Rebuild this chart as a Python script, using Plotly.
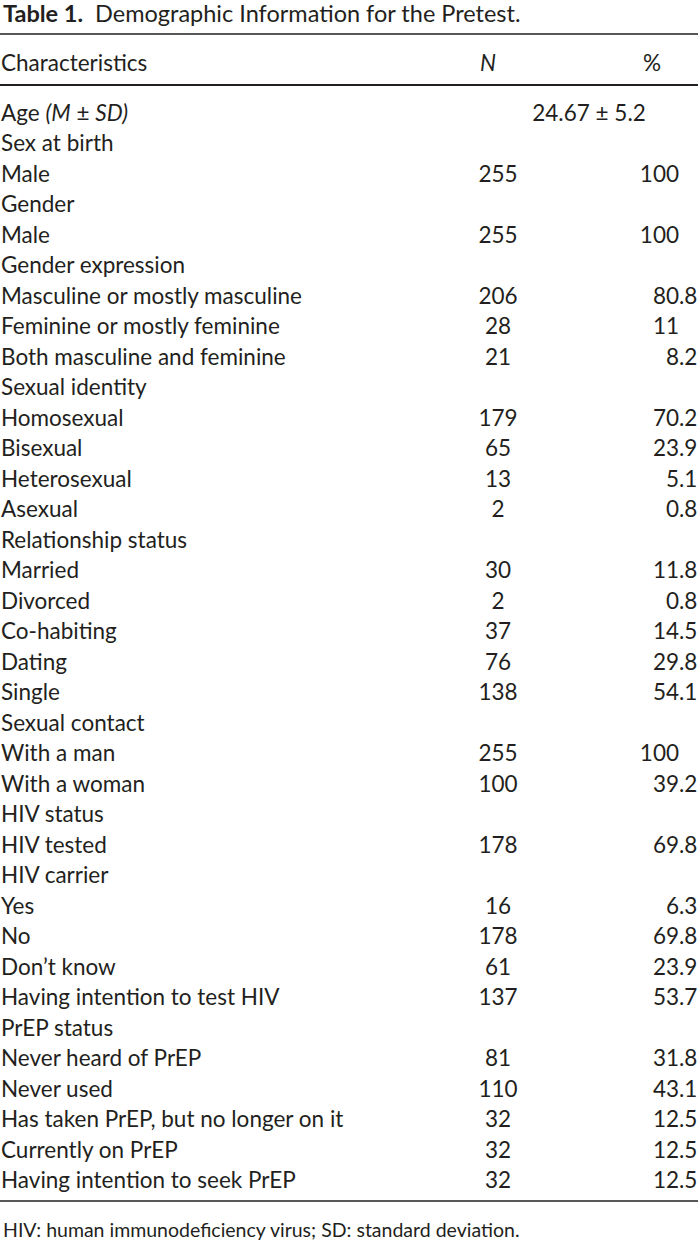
import plotly.graph_objects as go

# ---------------- data ----------------
labels = [
    "Age <i>(M</i> ± <i>SD)</i>", "Sex at birth", "Male", "Gender", "Male",
    "Gender expression", "Masculine or mostly masculine", "Feminine or mostly feminine",
    "Both masculine and feminine", "Sexual identity", "Homosexual", "Bisexual",
    "Heterosexual", "Asexual", "Relationship status", "Married", "Divorced",
    "Co-habiting", "Dating", "Single", "Sexual contact", "With a man", "With a woman",
    "HIV status", "HIV tested", "HIV carrier", "Yes", "No", "Don’t know",
    "Having intention to test HIV", "PrEP status", "Never heard of PrEP", "Never used",
    "Has taken PrEP, but no longer on it", "Currently on PrEP",
    "Having intention to seek PrEP",
]
n_values = [
    "", "", "255", "", "255", "", "206", "28", "21", "", "179", "65", "13", "2", "",
    "30", "2", "37", "76", "138", "", "255", "100", "", "178", "", "16", "178", "61",
    "137", "", "81", "110", "32", "32", "32",
]
pct_values = [
    "", "", "100", "", "100", "", "80.8", "11", "8.2", "", "70.2", "23.9", "5.1", "0.8",
    "", "11.8", "0.8", "14.5", "29.8", "54.1", "", "100", "39.2", "", "69.8", "",
    "6.3", "69.8", "23.9", "53.7", "", "31.8", "43.1", "12.5", "12.5", "12.5",
]
age_summary = "24.67 ± 5.2"
headers = ["Characteristics", "<i>N</i>", "%"]
title_bold = "Table 1."
title_rest = "Demographic Information for the Pretest."
footnote = "HIV: human immunodeficiency virus; SD: standard deviation."

# ---------------- layout constants ----------------
W, H = 698, 1242
ROW0, ROWH = 115, 30.5          # pixel centre of first row, row pitch
FONT = "Lato"
INK = "#231f20"
FS = 22.5


def px_to_row(p):
    return (p - ROW0) / ROWH


X_LABEL, X_N, X_DEC, X_AGE = 1, 498, 679, 589
X_HDR = [X_LABEL, 488, 652]

rows = list(range(len(labels)))
int_parts = [v.split(".")[0] for v in pct_values]
frac_parts = ["." + v.split(".")[1] if "." in v else "" for v in pct_values]

font = dict(family=FONT, size=FS, color=INK)
common = dict(mode="text", textfont=font, hoverinfo="skip", cliponaxis=False)

fig = go.Figure()
fig.add_trace(go.Scatter(x=[X_LABEL] * len(rows), y=rows, text=labels,
                         textposition="middle right", **common))
fig.add_trace(go.Scatter(x=[X_N] * len(rows), y=rows, text=n_values,
                         textposition="middle center", **common))
fig.add_trace(go.Scatter(x=[X_DEC] * len(rows), y=rows, text=int_parts,
                         textposition="middle left", **common))
fig.add_trace(go.Scatter(x=[X_DEC] * len(rows), y=rows, text=frac_parts,
                         textposition="middle right", **common))
fig.add_trace(go.Scatter(x=[X_AGE], y=[0], text=[age_summary],
                         textposition="middle center", **common))
fig.add_trace(go.Scatter(x=X_HDR, y=[px_to_row(65)] * 3, text=headers,
                         textposition=["middle right", "middle center", "middle center"],
                         **common))

fig.add_annotation(x=X_LABEL, y=px_to_row(13), xref="x", yref="y", xanchor="left",
                   yanchor="middle", showarrow=False,
                   text=f"<b>{title_bold}</b>  {title_rest}",
                   font=dict(family=FONT, size=23.5, color=INK))
fig.add_annotation(x=X_LABEL, y=px_to_row(1229), xref="x", yref="y", xanchor="left",
                   yanchor="middle", showarrow=False, text=footnote,
                   font=dict(family=FONT, size=19.5, color=INK))

for p, w in [(34, 1.5), (85, 2.2), (1201, 1.5)]:
    fig.add_shape(type="line", xref="x", yref="y", x0=0, x1=W,
                  y0=px_to_row(p), y1=px_to_row(p), line=dict(color=INK, width=w))

fig.update_layout(
    width=W, height=H, margin=dict(l=0, r=0, t=0, b=0),
    paper_bgcolor="white", plot_bgcolor="white", showlegend=False,
    xaxis=dict(range=[0, W], visible=False, fixedrange=True),
    yaxis=dict(range=[px_to_row(H), px_to_row(0)], visible=False, fixedrange=True),
)
fig.write_html("out.html", config={"displayModeBar": False},
               post_script="document.body.style.margin='0';"
                           "document.body.style.overflow='hidden';")
